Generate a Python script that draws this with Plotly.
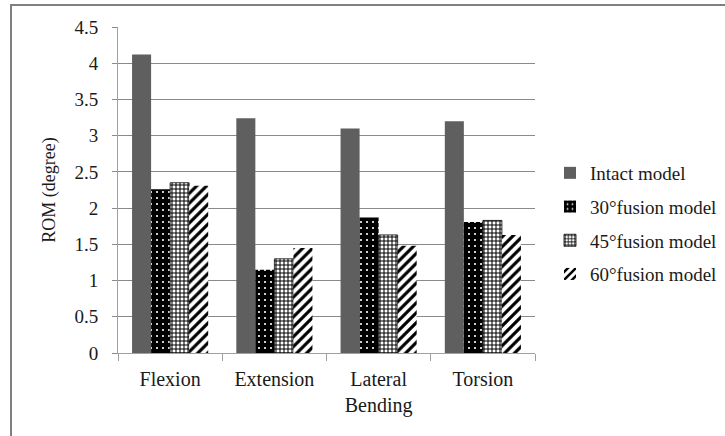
import plotly.graph_objects as go

categories = ["Flexion", "Extension", "Lateral<br>Bending", "Torsion"]
series_names = ["Intact model", "30°fusion model", "45°fusion model", "60°fusion model"]
intact = [4.12, 3.24, 3.10, 3.20]
fusion30 = [2.26, 1.15, 1.87, 1.81]
fusion45 = [2.35, 1.30, 1.63, 1.83]
fusion60 = [2.31, 1.45, 1.48, 1.63]
y_ticks = [0, 0.5, 1, 1.5, 2, 2.5, 3, 3.5, 4, 4.5]

W, H = 725, 436
L, R, T, B = 118, 190, 27, 83

fig = go.Figure()
fig.add_trace(go.Bar(name=series_names[0], x=categories, y=intact, legendgroup="a",
                     marker=dict(color="#5f5f5f", line=dict(width=0))))
fig.add_trace(go.Bar(name=series_names[1], x=categories, y=fusion30, legendgroup="b",
                     marker=dict(color="#000000", line=dict(width=0),
                                 pattern=dict(shape=".", bgcolor="#000000", fgcolor="#ffffff",
                                              size=6, solidity=0.1, fillmode="replace"))))
fig.add_trace(go.Bar(name=series_names[2], x=categories, y=fusion45, legendgroup="c",
                     marker=dict(color="#ffffff", line=dict(width=0.8, color="#000000"),
                                 pattern=dict(shape="+", bgcolor="#ffffff", fgcolor="#000000",
                                              size=4, solidity=0.45, fillmode="replace"))))
fig.add_trace(go.Bar(name=series_names[3], x=categories, y=fusion60, legendgroup="d",
                     marker=dict(color="#ffffff", line=dict(width=0),
                                 pattern=dict(shape="/", bgcolor="#ffffff", fgcolor="#000000",
                                              size=7, solidity=0.45, fillmode="replace"))))

pw, ph = W - L - R, H - T - B
def px(x):
    return (x - L) / pw
def py(y):
    return (H - B - y) / ph

fig.update_layout(
    width=W, height=H,
    margin=dict(l=L, r=R, t=T, b=B, autoexpand=False),
    paper_bgcolor="white", plot_bgcolor="white",
    font=dict(family="Liberation Serif", color="#1a1a1a"),
    barmode="group", bargap=0.27, bargroupgap=0,
    showlegend=True,
    legend=dict(x=px(550), y=py(154), xanchor="left", yanchor="top",
                font=dict(size=19, family="Liberation Serif", color="#1a1a1a"),
                tracegroupgap=6, itemwidth=30, bgcolor="rgba(0,0,0,0)"),
    xaxis=dict(type="category", showgrid=False, showline=True, linecolor="#a0a0a0", linewidth=1,
               ticks="outside", tickson="boundaries", ticklen=7, tickcolor="#a0a0a0",
               tickfont=dict(size=20, family="Liberation Serif", color="#1a1a1a"),
               ticklabelstandoff=8, automargin=False),
    yaxis=dict(range=[0, 4.5], tickvals=y_ticks, showgrid=True, gridcolor="#8a8a8a", gridwidth=1,
               showline=True, linecolor="#a0a0a0", linewidth=1, zeroline=False,
               ticks="outside", ticklen=5, tickcolor="#8a8a8a",
               tickfont=dict(size=19, family="Liberation Serif", color="#1a1a1a"),
               ticklabelstandoff=10, automargin=False,
               title=dict(text="ROM (degree)", standoff=14,
                          font=dict(size=18, family="Liberation Serif", color="#1a1a1a"))),
    shapes=[
        dict(type="line", xref="paper", yref="paper", x0=px(10), x1=px(725), y0=py(5), y1=py(5),
             line=dict(color="#808080", width=2), layer="above"),
        dict(type="line", xref="paper", yref="paper", x0=px(11), x1=px(11), y0=py(4), y1=py(436),
             line=dict(color="#808080", width=2), layer="above"),
    ],
)

fig.write_html("out.html", config={"displayModeBar": False},
               post_script="document.body.style.margin='0';document.body.style.overflow='hidden';")
